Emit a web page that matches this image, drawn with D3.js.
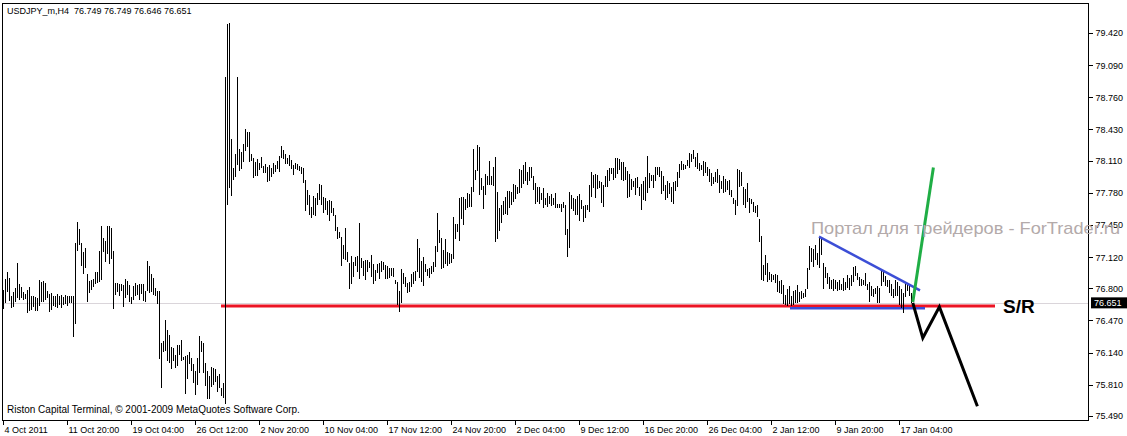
<!DOCTYPE html>
<html><head><meta charset="utf-8">
<script src="https://cdn.jsdelivr.net/npm/d3@7"></script>
<style>
html,body{margin:0;padding:0;background:#fff;}
svg{display:block;}
text{font-family:"Liberation Sans",Arial,sans-serif;white-space:pre;}
</style></head><body>
<svg id="c" width="1127" height="436"></svg>
<script>
// ---- DATA (USDJPY_m, H4) ----
const symbolTitle = "USDJPY_m,H4  76.749 76.749 76.646 76.651";
const lastPrice = 76.651;
const timeLabels = ["4 Oct 2011","11 Oct 20:00","19 Oct 04:00","26 Oct 12:00","2 Nov 20:00","10 Nov 04:00","17 Nov 12:00","24 Nov 20:00","2 Dec 04:00","9 Dec 12:00","16 Dec 20:00","26 Dec 04:00","2 Jan 12:00","9 Jan 20:00","17 Jan 04:00"];
const priceTicks = [79.42,79.09,78.76,78.43,78.11,77.78,77.45,77.12,76.80,76.47,76.14,75.81,75.49];

const highsOct = [76.78,76.90,76.97,76.91,76.72,76.76,76.80,77.06,76.84,76.81,
76.76,76.74,76.78,76.81,76.72,76.72,76.71,76.70,76.89,76.87,
76.88,76.85,76.77,76.74,76.75,76.72,76.72,76.74,76.72,76.73,
76.71,76.73,76.72,76.72,76.72,76.72,77.27,77.48,77.41,77.27,
77.17,77.21,76.95,76.88,76.89,76.90,76.97,76.97,77.18,77.44,
77.32,77.29,77.44,77.44,77.42,77.18,76.85,76.85,76.84,76.84,
76.83,76.90,76.88,76.83,76.71,76.82,76.85,76.83,76.84,76.84,
76.84,76.77,77.08,77.03,76.95,76.91,76.80,76.77,76.77,76.24,
76.26,76.47,76.37,76.32,76.20,76.19,76.12,76.22,76.22,76.27,
76.10,76.11,76.12,76.15,76.09,76.02,75.95,76.09,76.31,76.26,
76.24,76.03,75.95,75.90,75.99,75.98,75.97,75.90,75.92,75.78,
75.83,78.97];
const lowsOct = [76.59,76.65,76.76,76.67,76.60,76.61,76.66,76.70,76.68,76.70,
76.68,76.69,76.55,76.57,76.58,76.61,76.57,76.57,76.62,76.66,
76.66,76.68,76.70,76.56,76.58,76.62,76.61,76.60,76.63,76.60,
76.63,76.64,76.62,76.65,76.65,76.30,76.43,77.18,77.24,77.03,
76.95,77.01,76.66,76.75,76.78,76.81,76.84,76.85,76.87,76.89,
77.17,77.07,77.15,77.05,77.10,76.59,76.73,76.76,76.72,76.77,
76.61,76.70,76.73,76.66,76.64,76.68,76.72,76.73,76.68,76.74,
76.67,76.66,76.77,76.75,76.76,76.73,76.72,76.64,76.08,75.78,
76.15,76.16,76.05,76.03,75.97,76.05,75.98,76.00,76.12,76.05,
76.06,75.72,75.87,76.02,75.95,75.83,75.71,75.81,75.93,76.15,
75.93,75.80,75.66,75.66,75.79,75.81,75.84,75.74,75.78,75.70,
75.67,75.61];

const highsNov = [79.51,79.52,78.33,78.03,78.18,78.97,78.23,78.20,78.28,78.44,
78.40,78.40,78.18,78.14,78.10,78.13,78.09,78.15,78.06,78.08,
78.05,78.07,78.03,78.09,78.07,78.11,78.16,78.26,78.22,78.18,
78.14,78.17,78.12,78.07,78.09,78.08,78.06,78.05,78.03,77.91,
77.81,77.76,77.63,77.75,77.73,77.78,77.87,77.86,77.74,77.73,
77.70,77.71,77.70,77.62,77.55,77.43,77.38,77.33,77.24,77.42,
77.17,77.06,77.13,77.07,77.12,77.13,77.47,77.11,77.08,77.09,
77.09,77.07,77.14,77.05,76.99,77.05,77.06,77.08,77.07,77.04,
77.03,77.01,77.01,77.01,76.89,76.87,76.77,77.00,76.96,76.92,
76.85,76.87,76.95,76.97,76.98,77.31,77.21,77.08,77.12,77.05,
77.00,77.01,77.03,77.07,77.23,77.57,77.40,77.32,77.19,77.31,
77.17,77.16,77.15,77.53,77.46,77.46,77.73,77.74];
const lowsNov = [77.66,77.83,77.75,77.91,77.94,78.07,78.00,78.02,78.10,78.21,
78.25,78.10,78.11,77.93,77.95,77.95,78.01,78.03,77.98,77.98,
77.89,77.90,77.94,77.97,77.99,78.02,77.99,78.14,78.13,78.08,
78.08,78.06,78.02,77.96,78.02,78.01,78.00,77.97,77.88,77.59,
77.65,77.55,77.52,77.55,77.54,77.66,77.71,77.66,77.57,77.60,
77.55,77.49,77.57,77.54,77.39,77.31,77.32,77.03,77.10,77.09,
77.07,76.79,76.84,76.92,77.03,76.97,76.90,77.01,76.93,76.89,
76.97,77.01,76.92,76.84,76.88,76.96,76.90,76.97,76.99,76.90,
76.90,76.91,76.93,76.92,76.84,76.63,76.56,76.65,76.84,76.81,
76.75,76.76,76.81,76.84,76.88,76.97,76.91,76.87,76.82,76.97,
76.93,76.91,76.95,76.97,77.02,77.17,77.27,77.00,77.01,77.05,
77.03,77.05,77.06,77.10,77.31,77.38,77.29,77.51];

const highsDec = [77.74,77.72,77.78,77.77,77.84,78.23,78.01,78.27,78.25,77.93,
77.85,77.97,77.95,78.11,77.95,78.04,78.15,77.79,77.62,77.66,
77.70,77.74,77.80,77.80,77.79,77.87,77.86,77.84,78.02,78.01,
78.07,78.10,77.99,78.05,78.05,77.95,77.88,77.84,77.84,77.78,
77.83,77.73,77.78,77.75,77.77,77.73,77.78,77.67,77.67,77.67,
77.69,77.65,77.41,77.79,77.76,77.73,77.72,77.75,77.77,77.71,
77.64,77.66,77.66,77.86,77.99,77.96,77.97,77.96,77.90,77.89,
77.86,77.95,78.01,78.03,78.03,78.03,78.14,78.14,78.13,78.10,
78.10,78.04,78.00,77.97,77.92,77.90,77.93,77.94,77.84,77.87,
77.90,77.94,78.16,77.98,77.96,77.96,78.05,78.05,78.05,78.00,
77.95,77.86,77.90,77.88,77.84,77.89,77.90,77.99,78.08,78.11,
78.08,78.07,78.12,78.19,78.18,78.22];
const lowsDec = [77.45,77.60,77.62,77.63,77.63,77.79,77.91,78.00,77.76,77.81,
77.61,77.76,77.86,77.86,77.86,77.85,77.28,77.31,77.39,77.47,
77.55,77.56,77.55,77.62,77.66,77.69,77.72,77.77,77.78,77.83,
77.87,77.90,77.86,77.90,77.93,77.81,77.67,77.69,77.67,77.71,
77.62,77.66,77.63,77.67,77.64,77.66,77.62,77.62,77.62,77.58,
77.62,77.35,77.12,77.21,77.61,77.59,77.55,77.55,77.49,77.61,
77.48,77.52,77.60,77.58,77.74,77.83,77.73,77.82,77.83,77.68,
77.63,77.84,77.84,77.90,77.97,77.91,77.93,77.97,78.01,77.91,
77.90,77.91,77.73,77.74,77.81,77.84,77.76,77.83,77.75,77.60,
77.71,77.70,77.78,77.83,77.90,77.83,77.90,77.96,77.94,77.77,
77.80,77.71,77.73,77.77,77.69,77.67,77.80,77.84,77.93,78.01,
78.01,78.02,78.06,78.03,78.10,78.13];

const highsJan = [78.15,78.19,78.09,78.07,78.11,78.10,78.05,78.02,77.98,77.94,
77.99,78.02,77.96,77.90,77.95,77.92,77.90,77.91,77.81,77.73,
77.71,78.02,78.01,77.99,77.84,77.82,77.88,77.73,77.72,77.69,
77.64,77.66,77.51,77.34,77.04,77.14,77.06,76.97,76.95,76.94,
76.95,76.94,76.88,76.89,76.83,76.73,76.79,76.82,76.72,76.77,
76.78,76.83,76.76,76.77,76.75,76.79,77.01,77.23,77.21,77.20,
77.24,77.16,77.33,77.31,77.06,77.02,76.96,76.92,76.89,76.90,
76.89,76.87,76.89,76.84,76.91,76.86,76.94,76.91,76.94,77.02,
77.03,76.96,76.92,76.90,76.89,76.96,76.84,76.86,76.82,76.79,
76.80,76.82,76.80,76.99,76.97,76.93,76.89,76.89,76.84,76.79,
76.89,76.87,76.82,76.79,76.75,76.86,76.85,76.82,76.749];
const lowsJan = [78.05,78.02,78.00,78.01,77.95,77.98,77.95,77.89,77.85,77.87,
77.89,77.88,77.78,77.82,77.78,77.79,77.81,77.76,77.74,77.67,
77.55,77.64,77.84,77.85,77.66,77.62,77.69,77.57,77.67,77.58,
77.57,77.53,77.28,76.89,76.88,76.94,76.87,76.89,76.87,76.89,
76.85,76.76,76.75,76.74,76.64,76.63,76.62,76.64,76.62,76.63,
76.65,76.65,76.66,76.69,76.70,76.71,76.79,76.99,77.07,77.02,
77.09,77.04,77.01,77.14,76.79,76.91,76.84,76.79,76.79,76.77,
76.79,76.77,76.78,76.78,76.77,76.78,76.80,76.78,76.82,76.87,
76.93,76.89,76.82,76.82,76.83,76.82,76.78,76.66,76.72,76.71,
76.74,76.65,76.65,76.82,76.86,76.82,76.81,76.75,76.72,76.70,
76.72,76.72,76.63,76.60,76.55,76.71,76.77,76.72,76.646];

// drawn objects, as [bar index, price]
const srLine = [[109, 76.62], [496, 76.62]];
const triangleTop = [[408, 77.33], [458.5, 76.78]];
const triangleBase = [[393.5, 76.595], [461, 76.595]];
const bullPath = [[454.9, 76.66], [465.2, 78.04]];
const bearPath = [[454.9, 76.65], [459.9, 76.29], [468.2, 76.61], [487.2, 75.59]];
const srLabel = [500, 76.62];

// ---- CHART ----
const highs = highsOct.concat(highsNov, highsDec, highsJan);
const lows = lowsOct.concat(lowsNov, lowsDec, lowsJan);
const bars = highs.map((h, i) => ({i, h, l: lows[i]}));

const svg = d3.select("#c");
const L = 2.5, T = 3.5, R = 1088.5, B = 420.5;
const x = d3.scaleLinear().domain([0, 542.5]).range([3, 1088]);
const y = d3.scaleLinear().domain([75.49, 79.42]).range([416, 33]);

svg.append("rect").attr("width", 1127).attr("height", 436).attr("fill", "#fff");

// current price dotted line
const yp = Math.round(y(lastPrice)) + 0.5;
svg.append("line").attr("x1", L).attr("x2", R).attr("y1", yp).attr("y2", yp)
  .attr("stroke", "#b4aab4").attr("stroke-width", 1).attr("stroke-dasharray", "1,1");

const line = d3.line().x(d => x(d[0])).y(d => y(d[1]));

svg.append("path").attr("d", line(srLine)).attr("stroke", "#ec1424").attr("stroke-width", 3).attr("fill", "none");
svg.append("path").attr("d", line(triangleBase)).attr("stroke", "#3c4ed6").attr("stroke-width", 2.5).attr("fill", "none");

// bars
svg.append("g").attr("shape-rendering", "crispEdges").selectAll("rect").data(bars).join("rect")
  .attr("x", d => Math.round(x(d.i)))
  .attr("width", 1)
  .attr("y", d => Math.round(y(d.h)))
  .attr("height", d => Math.max(1, Math.round(y(d.l)) - Math.round(y(d.h))))
  .attr("fill", "#000");

svg.append("path").attr("d", line(triangleTop)).attr("stroke", "#3c4ed6").attr("stroke-width", 2.5).attr("fill", "none");
svg.append("path").attr("d", line(bullPath)).attr("stroke", "#1fae45").attr("stroke-width", 3).attr("fill", "none");
svg.append("path").attr("d", line(bearPath)).attr("stroke", "#000").attr("stroke-width", 3).attr("fill", "none").attr("stroke-linejoin", "miter");

// frame
svg.append("rect").attr("x", L).attr("y", T).attr("width", R - L).attr("height", B - T)
  .attr("fill", "none").attr("stroke", "#000").attr("stroke-width", 1);

// y axis
const yAxis = svg.append("g").attr("transform", `translate(${R},0)`)
  .call(d3.axisRight(y).tickValues(priceTicks).tickSize(4).tickPadding(3).tickFormat(d3.format(".3f")));
yAxis.select(".domain").remove();
yAxis.selectAll("text").attr("font-size", 9).attr("font-family", "Liberation Sans, Arial, sans-serif").attr("fill", "#000");
yAxis.selectAll("line").attr("stroke", "#000").attr("shape-rendering", "crispEdges");

// x axis
const xAxis = svg.append("g").attr("transform", `translate(0,${B})`)
  .call(d3.axisBottom(x).tickValues(d3.range(0, timeLabels.length * 32, 32)).tickSize(4).tickPadding(2)
    .tickFormat((d, i) => timeLabels[i]));
xAxis.select(".domain").remove();
xAxis.selectAll("line").attr("stroke", "#000").attr("shape-rendering", "crispEdges");
xAxis.selectAll("text").attr("text-anchor", "start").attr("x", 1)
  .attr("font-size", 9).attr("font-family", "Liberation Sans, Arial, sans-serif").attr("fill", "#000");

// current price label
const lp = svg.append("g");
lp.append("rect").attr("x", 1091).attr("y", y(lastPrice) - 5.5).attr("width", 36).attr("height", 11).attr("fill", "#000");
lp.append("text").attr("x", 1094).attr("y", y(lastPrice) + 3.3).attr("font-size", 9).attr("fill", "#fff").text(d3.format(".3f")(lastPrice));

// texts
svg.append("text").attr("x", 7).attr("y", 14).attr("font-size", 9).attr("fill", "#000")
  .attr("xml:space", "preserve").text(symbolTitle);
svg.append("text").attr("x", 7).attr("y", 413).attr("font-size", 10).attr("fill", "#000")
  .text("Riston Capital Terminal, © 2001-2009 MetaQuotes Software Corp.");
svg.append("text").attr("x", 811).attr("y", 234).attr("font-size", 17).attr("fill", "#b3aaaa")
  .attr("textLength", 309).attr("lengthAdjust", "spacingAndGlyphs")
  .text("Портал для трейдеров - ForTrader.ru");
svg.append("text").attr("x", x(srLabel[0])).attr("y", y(srLabel[1]) + 7).attr("font-size", 19).attr("font-weight", "bold")
  .attr("fill", "#000").text("S/R");
</script>
</body></html>
